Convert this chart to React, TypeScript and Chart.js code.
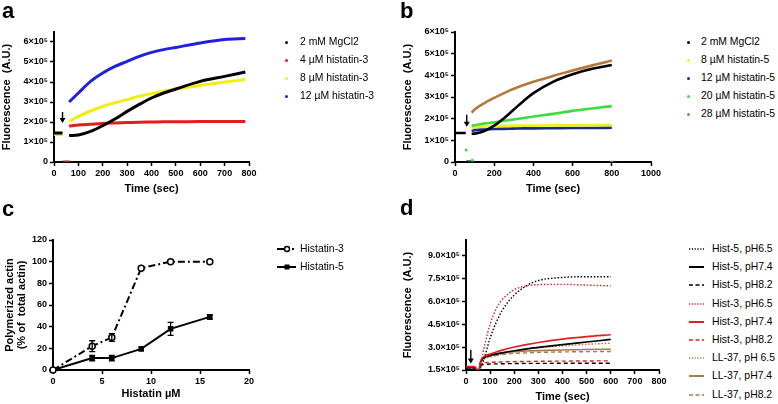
import React, { useEffect, useRef } from 'react';
import { Chart, registerables } from 'chart.js';
Chart.register(...registerables);

const FONT = '"Liberation Sans", Arial, Helvetica, sans-serif';

// ---------- Panel a ----------
const aTime = [0, 35, 50, 62, 100, 150, 200, 250, 300, 350, 400, 450, 500, 600, 700, 785];
const aMgCl2 = [145000, 145000, null, 132000, 135000, 153000, 182000, 215000, 253000, 288000, 320000, 345000, 365000, 403000, 428000, 450000];
const aHis3_4 = [null, null, null, 180000, 185000, 189000, 193000, 195000, 197000, 199000, 200000, 201000, 201000, 202000, 202000, 202000];
const aHis3_8 = [137000, 137000, null, 203000, 228000, 255000, 278000, 296000, 312000, 328000, 342000, 354000, 365000, 383000, 400000, 412000];
const aHis3_12 = [null, null, null, 300000, 345000, 403000, 445000, 478000, 503000, 528000, 548000, 562000, 573000, 595000, 612000, 617000];
const aZeroTime = [35, 66];
const aZeroVals = [0, 0];
const aLabels = ['2 mM MgCl2', '4 µM histatin-3', '8 µM histatin-3', '12 µM histatin-3'];
const aColors = ['#000000', '#e41c1c', '#f2ee0f', '#2020e0'];
const aXTicks = [0, 100, 200, 300, 400, 500, 600, 700, 800];
const aYTicks = [0, 100000, 200000, 300000, 400000, 500000, 600000];
const aArrow = { x: 35, y1: 250000, y2: 195000 };

// ---------- Panel b ----------
const bTime = [0, 55, 70, 85, 100, 150, 200, 250, 300, 350, 400, 500, 600, 700, 800];
const bMgCl2 = [134000, 134000, null, 130000, 131000, 143000, 168000, 202000, 242000, 282000, 318000, 370000, 405000, 430000, 448000];
const bHis5_8 = [null, null, null, 155000, 160000, 163000, 166000, 167000, 168000, 168000, 168000, 169000, 169000, 170000, 170000];
const bHis5_12 = [null, null, null, 143000, 147000, 150000, 152000, 153000, 154000, 155000, 155000, 156000, 157000, 157000, 158000];
const bHis5_20 = [null, null, null, 168000, 170000, 177000, 183000, 190000, 196000, 203000, 210000, 222000, 236000, 247000, 258000];
const bHis5_28 = [null, null, null, 228000, 242000, 272000, 296000, 318000, 338000, 355000, 370000, 397000, 422000, 446000, 468000];
const bStrayTime = [57, 88];
const bStrayGreen = [55000, 8000];
const bZeroTime = [58, 82];
const bZeroVals = [3000, 3000];
const bEndTime = [800];
const bEndBrown = [0];
const bLabels = ['2 mM MgCl2', '8 µM histatin-5', '12 µM histatin-5', '20 µM histatin-5', '28 µM histatin-5'];
const bColors = ['#000000', '#eeee22', '#1c2a8e', '#3ddc3d', '#b4783c'];
const bXTicks = [0, 200, 400, 600, 800, 1000];
const bYTicks = [0, 100000, 200000, 300000, 400000, 500000, 600000];
const bArrow = { x: 60, y1: 218000, y2: 163000 };

// ---------- Panel c ----------
const cConc = [0, 4, 6, 9, 12, 16];
const cHist3 = [0, 22, 30, 94, 100, 100];
const cHist3Err = [0, 5, 3.5, 0, 0, 0];
const cHist5 = [0, 11, 11, 19.5, 38, 49];
const cHist5Err = [0, 2.5, 2.5, 0, 6, 2];
const cLabels = ['Histatin-3', 'Histatin-5'];
const cXTicks = [0, 5, 10, 15, 20];
const cYTicks = [0, 20, 40, 60, 80, 100, 120];

// ---------- Panel d ----------
const dTime = [0, 35, 45, 52, 60, 70, 80, 100, 125, 150, 200, 250, 300, 400, 500, 600];
const dHist5_65 = [165000, 165000, 150000, 135000, 165000, 200000, 250000, 360000, 460000, 540000, 640000, 700000, 735000, 755000, 760000, 760000];
const dHist5_74 = [165000, 165000, 150000, 135000, 200000, 225000, 235000, 245000, 254000, 262000, 276000, 288000, 298000, 316000, 333000, 350000];
const dHist5_82 = [165000, 165000, 150000, 135000, 175000, 185000, 187000, 189000, 190000, 191000, 192000, 193000, 193000, 194000, 194000, 194000];
const dHist3_65 = [172000, 172000, 150000, 135000, 180000, 260000, 330000, 450000, 550000, 610000, 675000, 700000, 708000, 710000, 705000, 700000];
const dHist3_74 = [172000, 172000, 150000, 135000, 205000, 232000, 243000, 255000, 268000, 280000, 300000, 316000, 330000, 352000, 368000, 380000];
const dHist3_82 = [172000, 172000, 150000, 135000, 180000, 195000, 198000, 200000, 202000, 203000, 205000, 206000, 207000, 208000, 209000, 210000];
const dLL_65 = [168000, 168000, 150000, 135000, 190000, 215000, 225000, 235000, 245000, 255000, 272000, 285000, 295000, 308000, 318000, 325000];
const dLL_74 = [168000, 168000, 150000, 135000, 200000, 230000, 240000, 250000, 256000, 262000, 270000, 274000, 277000, 281000, 284000, 286000];
const dLL_82 = [168000, 168000, 150000, 135000, 195000, 220000, 230000, 240000, 246000, 252000, 259000, 262000, 265000, 268000, 270000, 271000];
const dLabels = ['Hist-5, pH6.5', 'Hist-5, pH7.4', 'Hist-5, pH8.2', 'Hist-3, pH6.5', 'Hist-3, pH7.4', 'Hist-3, pH8.2', 'LL-37, pH 6.5', 'LL-37, pH7.4', 'LL-37, pH8.2'];
const dColors = ['#000000', '#000000', '#000000', '#e02020', '#e02020', '#e02020', '#a87a4a', '#a87a4a', '#a87a4a'];
const dStyles = ['dot', 'solid', 'dash', 'dot', 'solid', 'dash', 'dot', 'solid', 'dash'];
const dXTicks = [0, 100, 200, 300, 400, 500, 600, 700, 800];
const dYTicks = [150000, 300000, 450000, 600000, 750000, 900000];
const dArrow = { x: 20, y1: 282000, y2: 192000 };

// ---------- helpers ----------
const pts = (xs: number[], ys: (number | null)[]) => xs.map((x, i) => ({ x, y: ys[i] }));
const sci = (v: number) => (v === 0 ? '0' : `${v / 100000}×10⁵`);
const sci1 = (v: number) => `${(v / 100000).toFixed(1)}×10⁵`;
const TICK_FONT = { family: FONT, size: 9, weight: 'bold' as const };
const TITLE_FONT = { family: FONT, size: 11, weight: 'bold' as const };

const arrowPlugin = {
  id: 'arrowMark',
  afterDatasetsDraw(chart: any, _a: any, opts: any) {
    if (!opts || opts.x == null) return;
    const { ctx, scales } = chart;
    const x = scales.x.getPixelForValue(opts.x);
    const y1 = scales.y.getPixelForValue(opts.y1);
    const y2 = scales.y.getPixelForValue(opts.y2);
    ctx.save();
    ctx.strokeStyle = '#000';
    ctx.fillStyle = '#000';
    ctx.lineWidth = 1.4;
    ctx.beginPath();
    ctx.moveTo(x, y1);
    ctx.lineTo(x, y2 - 4);
    ctx.stroke();
    ctx.beginPath();
    ctx.moveTo(x - 3, y2 - 5);
    ctx.lineTo(x + 3, y2 - 5);
    ctx.lineTo(x, y2);
    ctx.closePath();
    ctx.fill();
    ctx.restore();
  },
};

const errPlugin = {
  id: 'errBars',
  afterDatasetsDraw(chart: any) {
    const { ctx, scales } = chart;
    chart.data.datasets.forEach((ds: any, i: number) => {
      if (!ds.errors) return;
      const meta = chart.getDatasetMeta(i);
      ctx.save();
      ctx.strokeStyle = '#000';
      ctx.lineWidth = 1.3;
      ds.data.forEach((p: any, j: number) => {
        const e = ds.errors[j];
        if (!e) return;
        const x = meta.data[j].x;
        const yt = scales.y.getPixelForValue(p.y + e);
        const yb = scales.y.getPixelForValue(p.y - e);
        ctx.beginPath();
        ctx.moveTo(x, yt);
        ctx.lineTo(x, yb);
        ctx.moveTo(x - 3, yt);
        ctx.lineTo(x + 3, yt);
        ctx.moveTo(x - 3, yb);
        ctx.lineTo(x + 3, yb);
        ctx.stroke();
      });
      ctx.restore();
    });
  },
};

function axis(o: any) {
  const horiz = o.pos === 'bottom';
  return {
    type: 'linear',
    position: o.pos,
    min: o.min,
    max: o.max,
    afterBuildTicks: (s: any) => {
      s.ticks = o.ticks.map((v: number) => ({ value: v }));
    },
    afterFit: (s: any) => {
      if (horiz) {
        s.height = o.size;
        s.paddingLeft = 0;
        s.paddingRight = 0;
      } else {
        s.width = o.size;
        s.paddingTop = 0;
        s.paddingBottom = 0;
      }
    },
    grid: { display: true, drawOnChartArea: false, drawTicks: true, tickLength: 4, tickWidth: 1.5, tickColor: '#000', color: '#000' },
    border: { display: true, color: '#000', width: 2 },
    ticks: { color: '#000', autoSkip: false, maxRotation: 0, padding: 2, font: TICK_FONT, callback: o.fmt || ((v: any) => String(v)) },
    title: { display: true, text: o.title, color: '#000', font: o.tfont || TITLE_FONT, padding: o.tpad },
  };
}

function baseOptions(pad: any, x: any, y: any, extraPlugins: any = {}) {
  return {
    responsive: false,
    animation: false,
    devicePixelRatio: 1,
    layout: { padding: pad, autoPadding: false },
    plugins: { legend: { display: false }, tooltip: { enabled: false }, ...extraPlugins },
    scales: { x: axis({ ...x, pos: 'bottom' }), y: axis({ ...y, pos: 'left' }) },
  };
}

const lineDs = (xs: number[], ys: (number | null)[], color: string, width: number, extra: any = {}) => ({
  data: pts(xs, ys),
  borderColor: color,
  backgroundColor: color,
  borderWidth: width,
  pointRadius: 0,
  fill: false,
  spanGaps: false,
  cubicInterpolationMode: 'monotone',
  ...extra,
});

function configA() {
  return {
    type: 'line',
    data: {
      datasets: [
        lineDs(aTime, aMgCl2, aColors[0], 3),
        lineDs(aTime, aHis3_4, aColors[1], 3),
        lineDs(aTime, aHis3_8, aColors[2], 3),
        lineDs(aTime, aHis3_12, aColors[3], 3),
        lineDs(aZeroTime, aZeroVals, '#b0201c', 3),
      ],
    },
    options: baseOptions(
      { left: 0, top: 32, right: 21, bottom: 0 },
      { min: 0, max: 800, ticks: aXTicks, size: 38, title: 'Time (sec)', tpad: { top: 0, bottom: 4.4 } },
      { min: 0, max: 650000, ticks: aYTicks, size: 54, title: 'Fluorescence  (A.U.)', tpad: { top: 0.4, bottom: 0 }, fmt: sci },
      { arrowMark: aArrow }
    ),
    plugins: [arrowPlugin],
  };
}

function configB() {
  return {
    type: 'line',
    data: {
      datasets: [
        lineDs(bTime, bMgCl2, bColors[0], 2.6),
        lineDs(bTime, bHis5_28, bColors[4], 2.6),
        lineDs(bTime, bHis5_20, bColors[3], 2.6),
        lineDs(bTime, bHis5_8, bColors[1], 2.6),
        lineDs(bTime, bHis5_12, bColors[2], 2.6),
        lineDs(bStrayTime, bStrayGreen, bColors[3], 0, { showLine: false, pointRadius: 1.5, borderWidth: 0 }),
        lineDs(bZeroTime, bZeroVals, '#222244', 2),
        lineDs(bEndTime, bEndBrown, bColors[4], 0, { showLine: false, pointRadius: 2.5, borderWidth: 0, pointStyle: 'triangle', rotation: 180 }),
      ],
    },
    options: baseOptions(
      { left: 0, top: 32, right: 19, bottom: 0 },
      { min: 0, max: 1000, ticks: bXTicks, size: 38, title: 'Time (sec)', tpad: { top: 0, bottom: 4.4 } },
      { min: 0, max: 600000, ticks: bYTicks, size: 65, title: 'Fluorescence  (A.U.)', tpad: { top: 11.4, bottom: 0 }, fmt: sci },
      { arrowMark: bArrow }
    ),
    plugins: [arrowPlugin],
  };
}

function configC() {
  return {
    type: 'line',
    data: {
      datasets: [
        {
          data: pts(cConc, cHist3),
          errors: cHist3Err,
          borderColor: '#000',
          backgroundColor: '#fff',
          borderWidth: 2,
          borderDash: [7, 3, 2, 3],
          pointRadius: 3,
          pointBorderWidth: 1.5,
          pointBackgroundColor: '#fff',
          pointBorderColor: '#000',
          tension: 0,
          fill: false,
        },
        {
          data: pts(cConc, cHist5),
          errors: cHist5Err,
          borderColor: '#000',
          backgroundColor: '#000',
          borderWidth: 2,
          pointStyle: 'rect',
          pointRadius: 2.5,
          pointBackgroundColor: '#000',
          pointBorderColor: '#000',
          tension: 0,
          fill: false,
        },
      ],
    },
    options: {
      ...baseOptions(
        { left: 0, top: 40, right: 21, bottom: 0 },
        { min: 0, max: 20, ticks: cXTicks, size: 34, title: 'Histatin µM', tpad: { top: 0, bottom: 3.4 } },
        {
          min: 0,
          max: 120,
          ticks: cYTicks,
          size: 53,
          title: ['Polymerized actin', '(% of  total actin)'],
          tfont: { family: FONT, size: 11, weight: 'bold', lineHeight: 1.1 },
          tpad: { top: 4, bottom: 0 },
        }
      ),
      clip: false,
    },
    plugins: [errPlugin],
  };
}

function configD() {
  const dSeries = [dHist5_65, dHist5_74, dHist5_82, dHist3_65, dHist3_74, dHist3_82, dLL_65, dLL_74, dLL_82];
  const dash = (s: string) => (s === 'dot' ? [1.5, 1.8] : s === 'dash' ? [4, 3] : []);
  const order = [4, 1, 3, 0, 6, 7, 8, 5, 2];
  return {
    type: 'line',
    data: {
      datasets: order.map((i) =>
        lineDs(dTime, dSeries[i], dColors[i], dStyles[i] === 'solid' ? 1.6 : 1.4, { borderDash: dash(dStyles[i]) })
      ),
    },
    options: baseOptions(
      { left: 0, top: 40, right: 11, bottom: 0 },
      { min: 0, max: 800, ticks: dXTicks, size: 34, title: 'Time (sec)', tpad: { top: 0, bottom: 0.4 } },
      { min: 150000, max: 1000000, ticks: dYTicks, size: 76, title: 'Fluorescence  (A.U.)', tpad: { top: 11.4, bottom: 0 }, fmt: sci1 },
      { arrowMark: dArrow }
    ),
    plugins: [arrowPlugin],
  };
}

function ChartBox({ left, top, width, height, make }: any) {
  const ref = useRef<HTMLCanvasElement>(null);
  useEffect(() => {
    const chart = new Chart(ref.current as HTMLCanvasElement, make() as any);
    return () => chart.destroy();
  }, []);
  return (
    <canvas
      ref={ref}
      width={width}
      height={height}
      style={{ position: 'absolute', left, top, width, height }}
    />
  );
}

const txt: React.CSSProperties = { position: 'absolute', fontFamily: FONT, fontSize: 10.4, color: '#000', whiteSpace: 'nowrap', lineHeight: '18px' };
const letter: React.CSSProperties = { position: 'absolute', fontFamily: FONT, fontSize: 22, fontWeight: 'bold', lineHeight: '22px', color: '#000' };

function DotLegend({ labels, colors, markerX, textX, top }: any) {
  return (
    <>
      {labels.map((l: string, i: number) => (
        <React.Fragment key={l}>
          <div style={{ position: 'absolute', left: markerX - 1.5, top: top + i * 18 + 8, width: 3, height: 3, borderRadius: 2, background: colors[i] }} />
          <div style={{ ...txt, left: textX, top: top + i * 18 }}>{l}</div>
        </React.Fragment>
      ))}
    </>
  );
}

export default function App() {
  return (
    <div style={{ position: 'absolute', left: 0, top: 0, width: 778, height: 404, background: '#fff', overflow: 'hidden' }}>
      <ChartBox left={0} top={0} width={270} height={200} make={configA} />
      <ChartBox left={390} top={0} width={280} height={200} make={configB} />
      <ChartBox left={0} top={200} width={270} height={204} make={configC} />
      <ChartBox left={390} top={200} width={280} height={204} make={configD} />

      <div style={{ ...letter, left: 2, top: 0 }}>a</div>
      <div style={{ ...letter, left: 400, top: 0 }}>b</div>
      <div style={{ ...letter, left: 2, top: 198 }}>c</div>
      <div style={{ ...letter, left: 400, top: 197 }}>d</div>

      <DotLegend labels={aLabels} colors={aColors} markerX={286} textX={300} top={33} />
      <DotLegend labels={bLabels} colors={bColors} markerX={688} textX={701} top={33} />

      {cLabels.map((l, i) => (
        <React.Fragment key={l}>
          <svg style={{ position: 'absolute', left: 276, top: 240 + i * 18 }} width={22} height={18}>
            {i === 0 ? (
              <>
                <line x1={1} y1={9} x2={8} y2={9} stroke="#000" strokeWidth={2} />
                <circle cx={11} cy={9} r={2.5} fill="#fff" stroke="#000" strokeWidth={1.4} />
                <rect x={16} y={8} width={2} height={2} fill="#000" />
              </>
            ) : (
              <>
                <line x1={1} y1={9} x2={20} y2={9} stroke="#000" strokeWidth={2} />
                <rect x={8.5} y={6.5} width={5} height={5} fill="#000" />
              </>
            )}
          </svg>
          <div style={{ ...txt, left: 300, top: 240 + i * 18 }}>{l}</div>
        </React.Fragment>
      ))}

      {dLabels.map((l, i) => (
        <React.Fragment key={l}>
          <svg style={{ position: 'absolute', left: 688, top: 240 + i * 18.2 }} width={18} height={18}>
            <line
              x1={1}
              y1={9}
              x2={16}
              y2={9}
              stroke={dColors[i]}
              strokeWidth={dStyles[i] === 'solid' ? 2 : 1.4}
              strokeDasharray={dStyles[i] === 'dot' ? '1.2 1.6' : dStyles[i] === 'dash' ? '4 2.5' : undefined}
            />
          </svg>
          <div style={{ ...txt, left: 712, top: 240 + i * 18.2 }}>{l}</div>
        </React.Fragment>
      ))}
    </div>
  );
}
